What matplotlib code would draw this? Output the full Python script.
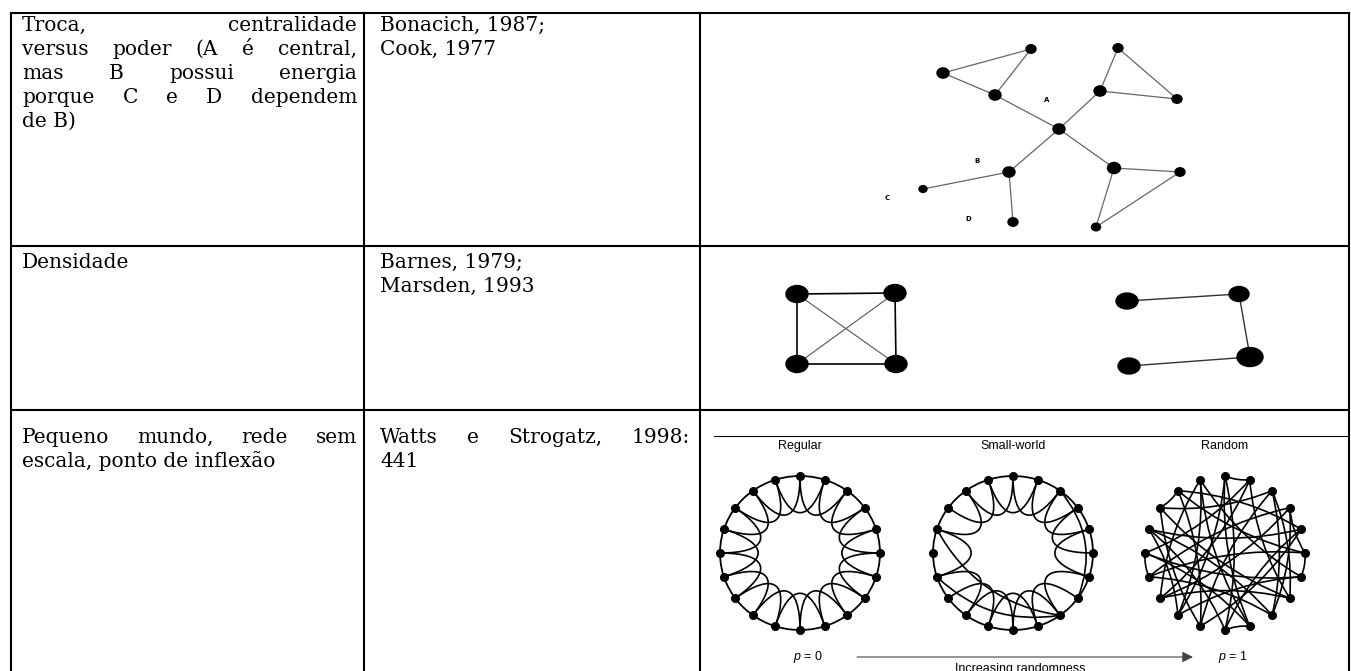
import numpy as np
import matplotlib.pyplot as plt
from matplotlib.patches import Ellipse, PathPatch
from matplotlib.path import Path

plt.rcParams['mathtext.fontset'] = 'custom'
plt.rcParams['mathtext.it'] = 'Liberation Sans:italic'
plt.rcParams['mathtext.rm'] = 'Liberation Sans'

# ---- textos da tabela (linha a linha, True = linha justificada)
col1 = [
    [("Troca, centralidade", True), ("versus poder (A é central,", True),
     ("mas B possui energia", True), ("porque C e D dependem", True), ("de B)", False)],
    [("Densidade", False)],
    [("Pequeno mundo, rede sem", True), ("escala, ponto de inflexão", False)],
]
col2 = [
    [("Bonacich, 1987;", False), ("Cook, 1977", False)],
    [("Barnes, 1979;", False), ("Marsden, 1993", False)],
    [("Watts e Strogatz, 1998:", True), ("441", False)],
]

# ---- rede 1 (troca / centralidade)
rede1_x = [943, 1031, 995, 1059, 1100, 1118, 1177, 1009, 923, 1013, 1114, 1180, 1096]
rede1_y = [73, 49, 95, 129, 91, 48, 99, 172, 189, 222, 168, 172, 227]
rede1_d = [12, 10, 12, 12, 12, 10, 10, 12, 8, 10, 13, 10, 9]
rede1_arestas = [(0, 1), (1, 2), (0, 2), (2, 3), (3, 4), (4, 5), (5, 6), (4, 6),
                 (3, 7), (7, 8), (7, 9), (3, 10), (10, 11), (11, 12), (10, 12)]
rede1_rotulos = ["A", "B", "C", "D"]
rede1_rot_x = [1047, 977, 887, 968]
rede1_rot_y = [100, 161, 198, 219]

# ---- rede 2 (densidade): quadrado completo e caminho
quad_x = [797, 895, 797, 896]
quad_y = [294, 293, 364, 364]
quad_lados = [(0, 1), (1, 3), (3, 2), (2, 0)]
quad_diag = [(0, 3), (1, 2)]
cam_x = [1127, 1239, 1250, 1129]
cam_y = [301, 294, 357, 366]
cam_w = [22, 20, 26, 22]
cam_h = [16, 15, 19, 16]
cam_arestas = [(0, 1), (1, 2), (2, 3)]

# ---- rede 3 (Watts-Strogatz)
ws_titulos = ["Regular", "Small-world", "Random"]
ws_cx = [800, 1013, 1225]
n_nos = 20
sw_removidas = [(13, 15), (15, 17), (5, 7)]
sw_novas = [(16, 8), (14, 8), (2, 7)]
aleat_arestas = [(0, 9), (0, 12), (1, 7), (1, 15), (2, 11), (2, 17), (3, 5), (3, 13),
                 (4, 10), (4, 16), (5, 14), (5, 18), (6, 12), (6, 19), (7, 13), (7, 17),
                 (8, 14), (2, 8), (9, 15), (9, 19), (10, 16), (0, 10), (11, 18), (4, 11),
                 (12, 19), (1, 13), (3, 14), (6, 15), (8, 16), (11, 17), (4, 18), (13, 19),
                 (0, 1), (5, 6), (9, 10), (14, 15), (17, 18), (3, 8), (12, 16), (2, 7)]

fig = plt.figure(figsize=(13.51, 6.71), dpi=100)
ax = fig.add_axes([0, 0, 1, 1])
ax.set_xlim(0, 1351)
ax.set_ylim(671, 0)
ax.axis('off')
rend = fig.canvas.get_renderer()

# grade da tabela
xs = [11, 364, 700, 1349]
ys = [13, 246, 410]
for x in xs:
    ax.plot([x, x], [ys[0], 671], color='black', lw=1.5, solid_capstyle='projecting')
for y in ys:
    ax.plot([xs[0], xs[-1]], [y, y], color='black', lw=1.5, solid_capstyle='projecting')

fonte = dict(family='DejaVu Serif', fontsize=14.5, color='black')

def linha(texto, x0, x1, y, justif):
    palavras = texto.split()
    if not justif or len(palavras) == 1:
        ax.text(x0, y, texto, va='baseline', **fonte)
        return
    ts = [ax.text(0, y, p, va='baseline', **fonte) for p in palavras]
    ws = [t.get_window_extent(rend).width for t in ts]
    gap = (x1 - x0 - sum(ws)) / (len(ws) - 1)
    x = x0
    for t, w in zip(ts, ws):
        t.set_x(x)
        x += w + gap

base = [31, 268, 443]
passo = 24
for r in range(3):
    for k, (txt, j) in enumerate(col1[r]):
        linha(txt, 22, 357, base[r] + k * passo, j)
    for k, (txt, j) in enumerate(col2[r]):
        linha(txt, 380, 690, base[r] + k * passo, j)

# rede 1
for a, b in rede1_arestas:
    ax.plot([rede1_x[a], rede1_x[b]], [rede1_y[a], rede1_y[b]], color='#666666', lw=0.9)
for x, y, d in zip(rede1_x, rede1_y, rede1_d):
    ax.add_patch(Ellipse((x, y), d, d * 0.85, color='black', zorder=3))
for s, x, y in zip(rede1_rotulos, rede1_rot_x, rede1_rot_y):
    ax.text(x, y, s, fontsize=5, fontweight='bold', family='DejaVu Sans', ha='center', va='center')

# rede 2
for a, b in quad_lados:
    ax.plot([quad_x[a], quad_x[b]], [quad_y[a], quad_y[b]], color='black', lw=1.2)
for a, b in quad_diag:
    ax.plot([quad_x[a], quad_x[b]], [quad_y[a], quad_y[b]], color='#555555', lw=0.8)
for x, y in zip(quad_x, quad_y):
    ax.add_patch(Ellipse((x, y), 22, 17, color='black', zorder=3))
for a, b in cam_arestas:
    ax.plot([cam_x[a], cam_x[b]], [cam_y[a], cam_y[b]], color='#333333', lw=1.0)
for x, y, w, h in zip(cam_x, cam_y, cam_w, cam_h):
    ax.add_patch(Ellipse((x, y), w, h, color='black', zorder=3))

# rede 3
cy, rx, ry = 553, 80, 77
ax.plot([714, 1349], [436, 436], color='black', lw=0.8)

def pos(c, i, f=1.0):
    ang = np.deg2rad(90 - 18 * i)
    return np.array([c + f * rx * np.cos(ang), cy - f * ry * np.sin(ang)])

def laco(c, i, j):
    p0, p3 = pos(c, i), pos(c, j)
    p1, p2 = pos(c, i, 0.4), pos(c, j, 0.4)
    path = Path([p0, p1, p2, p3], [Path.MOVETO, Path.CURVE4, Path.CURVE4, Path.CURVE4])
    ax.add_patch(PathPatch(path, fc='none', ec='black', lw=1.2))

def corda(c, i, j, curv):
    p0, p2 = pos(c, i), pos(c, j)
    d = p2 - p0
    ctrl = (p0 + p2) / 2 + curv * np.array([-d[1], d[0]])
    path = Path([p0, ctrl, p2], [Path.MOVETO, Path.CURVE3, Path.CURVE3])
    ax.add_patch(PathPatch(path, fc='none', ec='black', lw=1.2))

for k, c in enumerate(ws_cx):
    ax.text(c, 446, ws_titulos[k], family='Liberation Sans', fontsize=9, ha='center', va='center')
    if k < 2:
        ax.add_patch(Ellipse((c, cy), 2 * rx, 2 * ry, fc='none', ec='black', lw=1.3))
        for i in range(n_nos):
            j = (i + 2) % n_nos
            if k == 1 and ((i, j) in sw_removidas):
                continue
            laco(c, i, j)
        if k == 1:
            for n, (i, j) in enumerate(sw_novas):
                corda(c, i, j, 0.25 if n < 2 else -0.3)
    else:
        for n, (i, j) in enumerate(aleat_arestas):
            corda(c, i, j, 0.12 if n % 2 == 0 else -0.12)
    pts = np.array([pos(c, i) for i in range(n_nos)])
    ax.plot(pts[:, 0], pts[:, 1], 'o', color='black', ms=5.5, zorder=4)

ax.annotate('', xy=(1193, 657), xytext=(857, 657),
            arrowprops=dict(arrowstyle='-|>', color='#444444', lw=0.8, mutation_scale=16,
                            shrinkA=0, shrinkB=0))
ax.text(808, 657, r'$p$ = 0', family='Liberation Sans', fontsize=9, ha='center', va='center')
ax.text(1233, 657, r'$p$ = 1', family='Liberation Sans', fontsize=9, ha='center', va='center')
ax.text(1020, 669, 'Increasing randomness', family='Liberation Sans', fontsize=9, ha='center', va='center')

fig.savefig('out.png', dpi=100)
